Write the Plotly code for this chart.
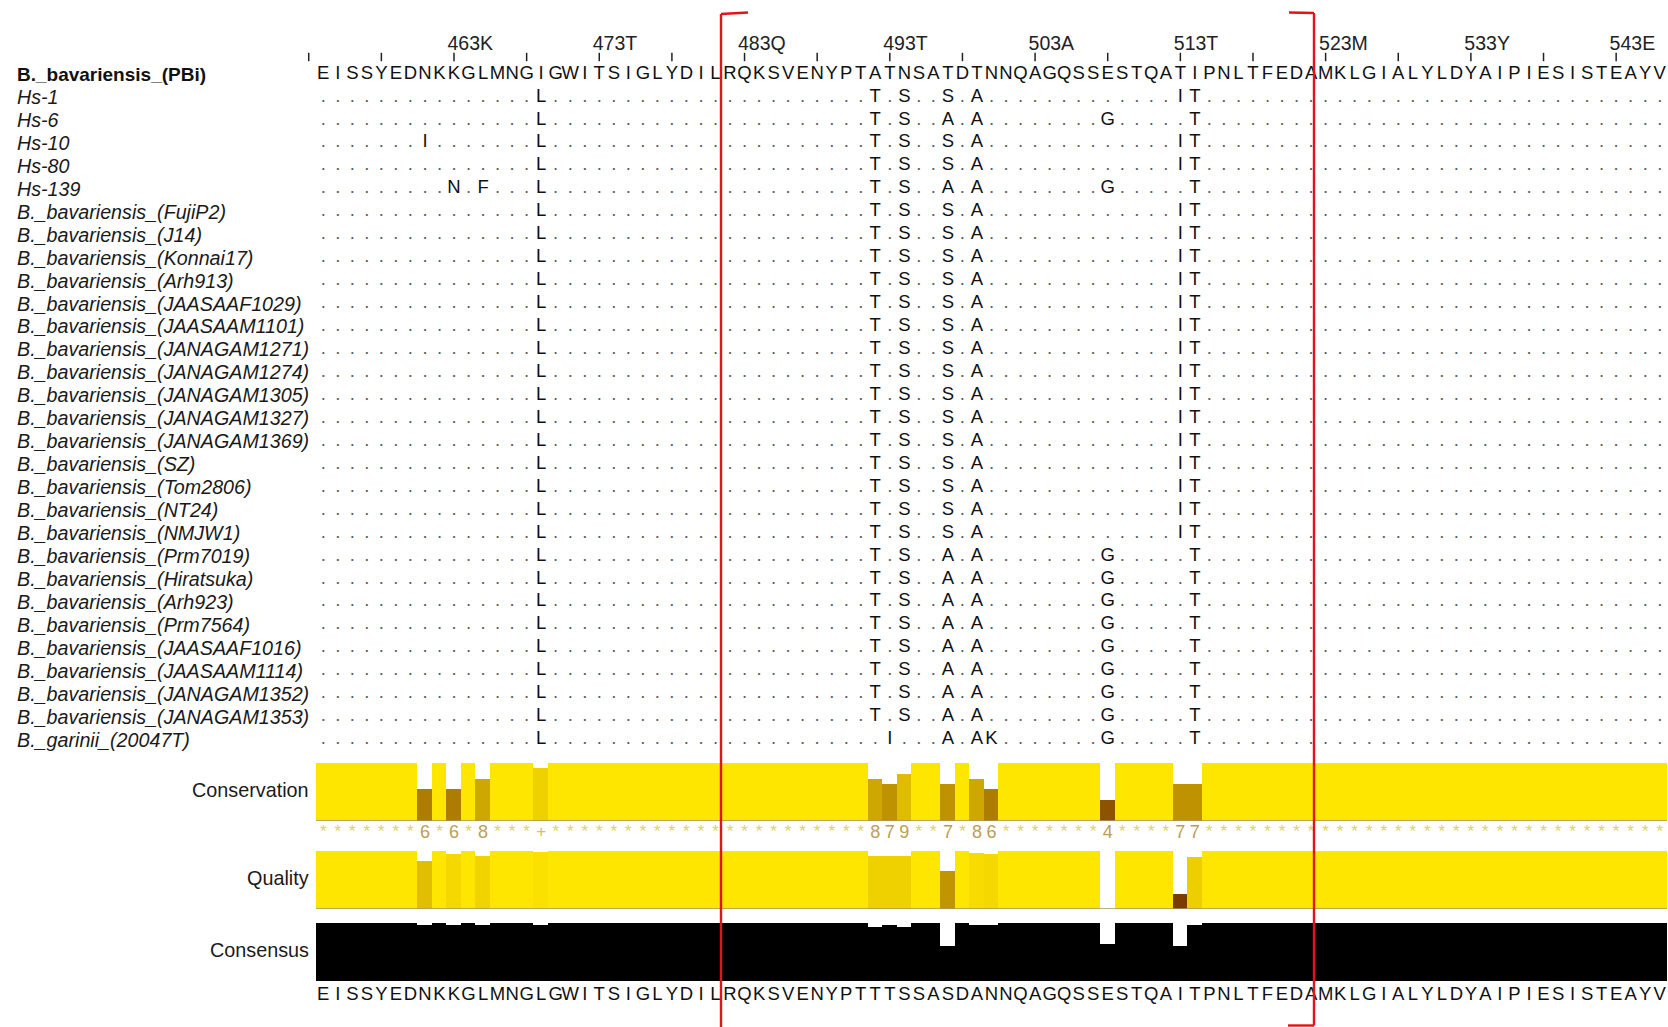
import plotly.graph_objects as go

# ---------------------------------------------------------------- data
FIRST_RESIDUE = 454          # residue number of the first alignment column

reference_name = "B._bavariensis_(PBi)"
reference_seq = ("EISSYEDNKKGLMNGIGWITSIGLYDILRQKSVENYPTATNSATDTNNQA"
                 "GQSSESTQATIPNLTFEDAMKLGIALYLDYAIPIESISTEAYV")

# substitutions relative to the reference (residue numbering)
GROUP_A = "I469L A492T N494S T497S T499A T513I I514T"
GROUP_B = "I469L A492T N494S T497A T499A E508G I514T"

strain_names = [
    "Hs-1", "Hs-6", "Hs-10", "Hs-80", "Hs-139",
    "B._bavariensis_(FujiP2)", "B._bavariensis_(J14)", "B._bavariensis_(Konnai17)",
    "B._bavariensis_(Arh913)", "B._bavariensis_(JAASAAF1029)",
    "B._bavariensis_(JAASAAM1101)", "B._bavariensis_(JANAGAM1271)",
    "B._bavariensis_(JANAGAM1274)", "B._bavariensis_(JANAGAM1305)",
    "B._bavariensis_(JANAGAM1327)", "B._bavariensis_(JANAGAM1369)",
    "B._bavariensis_(SZ)", "B._bavariensis_(Tom2806)", "B._bavariensis_(NT24)",
    "B._bavariensis_(NMJW1)", "B._bavariensis_(Prm7019)",
    "B._bavariensis_(Hiratsuka)", "B._bavariensis_(Arh923)",
    "B._bavariensis_(Prm7564)", "B._bavariensis_(JAASAAF1016)",
    "B._bavariensis_(JAASAAM1114)", "B._bavariensis_(JANAGAM1352)",
    "B._bavariensis_(JANAGAM1353)", "B._garinii_(20047T)",
]
strain_variants = [
    GROUP_A, GROUP_B, "N461I " + GROUP_A, GROUP_A,
    "K463N L465F " + GROUP_B,
    GROUP_A, GROUP_A, GROUP_A, GROUP_A, GROUP_A, GROUP_A, GROUP_A, GROUP_A,
    GROUP_A, GROUP_A, GROUP_A, GROUP_A, GROUP_A, GROUP_A, GROUP_A,
    GROUP_B, GROUP_B, GROUP_B, GROUP_B, GROUP_B, GROUP_B, GROUP_B, GROUP_B,
    "I469L T493I T497A T499A N500K E508G I514T",
]

consensus_seq = ("EISSYEDNKKGLMNGLGWITSIGLYDILRQKSVENYPTTTSSASDANNQA"
                 "GQSSESTQAITPNLTFEDAMKLGIALYLDYAIPIESISTEAYV")

ruler_every = 5
ruler_start = 453            # first minor tick, just left of the first column
tick_residues = [463, 473, 483, 493, 503, 513, 523, 533, 543]
tick_labels = ["463K", "473T", "483Q", "493T", "503A", "513T", "523M", "533Y", "543E"]

# annotation rows: columns that differ from the fully conserved default
annot_residues = [461, 463, 465, 469, 492, 493, 494, 497, 499, 500, 508, 513, 514]
conservation_score = [6, 6, 8, 10, 8, 7, 9, 7, 8, 6, 4, 7, 7]     # max 11
quality_score = [0.83, 0.94, 0.92, 0.98, 0.91, 0.91, 0.91, 0.65,
                 0.96, 0.94, 0.0, 0.26, 0.90]                     # max 1
consensus_pct = [96.7, 96.7, 96.7, 96.7, 93.3, 96.7, 93.3, 60.0,
                 96.7, 96.7, 63.3, 60.0, 96.7]                    # max 100

# ---------------------------------------------------------------- layout constants
W, H = 1668, 1027
COL_PX = 14.527                           # width of one alignment column
SEQ_LEFT, SEQ_RIGHT = 316, 1667           # pixel extent of the alignment block
ROW0_PX, ROW_PX = 74.0, 22.95             # first row centre and row pitch
FONT = "Liberation Sans, Arial, sans-serif"

ncol = len(reference_seq)
cols = list(range(ncol))


def row_of_px(py):
    return (py - ROW0_PX) / ROW_PX


def jalview_colour(frac):
    r = 255 * (0.3 + 0.7 * frac)
    g = 255 * 0.9 * frac
    return f"rgb({r:.0f},{g:.0f},0)"


def expand(default, values):
    out = [default] * ncol
    for res, v in zip(annot_residues, values):
        out[res - FIRST_RESIDUE] = v
    return out


cons_full = expand(11, conservation_score)
qual_full = expand(1.0, quality_score)
pct_full = expand(100.0, consensus_pct)

fig = go.Figure()

# ---------------------------------------------------------------- ruler
ruler_cols = [r - FIRST_RESIDUE for r in range(ruler_start, FIRST_RESIDUE + ncol, ruler_every)]
fig.add_trace(go.Scatter(
    x=ruler_cols, y=[row_of_px(57)] * len(ruler_cols), mode="markers",
    marker=dict(symbol="line-ns", size=6, line=dict(width=1.5, color="#222")),
    cliponaxis=False, hoverinfo="skip"))
fig.add_trace(go.Scatter(
    x=[r - FIRST_RESIDUE - 0.45 for r in tick_residues],
    y=[row_of_px(45)] * len(tick_residues), mode="text", text=tick_labels,
    textposition="middle right", textfont=dict(family=FONT, size=19.5, color="#222"),
    cliponaxis=False, hoverinfo="skip"))

# ---------------------------------------------------------------- alignment rows
fig.add_trace(go.Scatter(
    x=cols, y=[0] * ncol, mode="text", text=list(reference_seq),
    textfont=dict(family=FONT, size=18.5, color="#111"),
    cliponaxis=False, hoverinfo="skip"))

mx, my, mt, dx, dy = [], [], [], [], []
for r, variants in enumerate(strain_variants, start=1):
    subs = {}
    for v in variants.split():
        pos = int(v[1:-1])
        subs[pos - FIRST_RESIDUE] = v[-1]
    for c in cols:
        if c in subs:
            mx.append(c); my.append(r); mt.append(subs[c])
        else:
            dx.append(c); dy.append(r)

fig.add_trace(go.Scatter(
    x=dx, y=dy, mode="text", text=["."] * len(dx),
    textfont=dict(family=FONT, size=18.5, color="#5e5e5e"),
    cliponaxis=False, hoverinfo="skip"))
fig.add_trace(go.Scatter(
    x=mx, y=my, mode="text", text=mt,
    textfont=dict(family=FONT, size=18.5, color="#111"),
    cliponaxis=False, hoverinfo="skip"))

# sequence names
annotations = [dict(
    x=15 / W, xref="paper", y=0, yref="y", xanchor="left", yanchor="middle",
    text=f"<b>{reference_name}</b>", showarrow=False,
    font=dict(family=FONT, size=19, color="#111"))]
for r, name in enumerate(strain_names, start=1):
    annotations.append(dict(
        x=15 / W, xref="paper", y=r, yref="y", xanchor="left", yanchor="middle",
        text=f"<i>{name}</i>", showarrow=False,
        font=dict(family=FONT, size=19.7, color="#1a1a1a")))

# ---------------------------------------------------------------- annotation tracks
cons_dom = [1 - 821 / H, 1 - 763 / H]
qual_dom = [1 - 909 / H, 1 - 851 / H]
pct_dom = [1 - 981 / H, 1 - 923 / H]

fig.add_trace(go.Bar(
    x=cols, y=cons_full, width=1, yaxis="y2",
    marker=dict(color=[jalview_colour(v / 11) for v in cons_full], line=dict(width=0)),
    hoverinfo="skip"))
fig.add_trace(go.Bar(
    x=cols, y=qual_full, width=1, yaxis="y3",
    marker=dict(color=[jalview_colour(v) for v in qual_full], line=dict(width=0)),
    hoverinfo="skip"))
fig.add_trace(go.Bar(
    x=cols, y=pct_full, width=1, yaxis="y4",
    marker=dict(color="#000000", line=dict(width=0)),
    hoverinfo="skip"))

# conservation symbols
sym = ["*" if v == 11 else "+" if v == 10 else str(v) for v in cons_full]
sym_col = ["#dcd65c" if s == "*" else "#d2c256" if s == "+" else "#bb9e58" for s in sym]
sym_size = [17 if s in "*+" else 18 for s in sym]
fig.add_trace(go.Scatter(
    x=cols, y=[row_of_px(833)] * ncol, mode="text", text=sym,
    textfont=dict(family=FONT, size=sym_size, color=sym_col),
    cliponaxis=False, hoverinfo="skip"))

# consensus sequence
fig.add_trace(go.Scatter(
    x=cols, y=[row_of_px(995)] * ncol, mode="text", text=list(consensus_seq),
    textfont=dict(family=FONT, size=18.5, color="#111"),
    cliponaxis=False, hoverinfo="skip"))

for label, dom in (("Conservation", cons_dom), ("Quality", qual_dom), ("Consensus", pct_dom)):
    annotations.append(dict(
        x=311 / W, xref="paper", y=(dom[0] + dom[1]) / 2 + 0.002, yref="paper",
        xanchor="right", yanchor="middle", text=label, showarrow=False,
        font=dict(family=FONT, size=19.8, color="#1a1a1a")))

# track baselines
shapes = []
for yref in ("y2", "y3"):
    shapes.append(dict(type="line", xref="x", yref=yref, x0=-0.5, x1=ncol - 0.5,
                       y0=0, y1=0, line=dict(color="#a39466", width=1.5)))


# highlighted region brackets
def px_line(x0, y0, x1, y1):
    return dict(type="line", xref="paper", yref="paper",
                x0=x0 / W, x1=x1 / W, y0=1 - y0 / H, y1=1 - y1 / H,
                line=dict(color="#e3121b", width=2.4))


shapes += [
    px_line(721, 14, 748, 12.5),
    px_line(721, 14, 721, H + 2),
    px_line(1289, 12.5, 1314, 13),
    px_line(1314, 13, 1314, 1025.5),
    px_line(1288, 1025.5, 1314, 1025.5),
]

fig.update_layout(
    width=W, height=H, margin=dict(l=0, r=0, t=0, b=0),
    paper_bgcolor="white", plot_bgcolor="white",
    showlegend=False, barmode="overlay", bargap=0,
    # one spare column on the left so the first ruler tick sits inside the range
    xaxis=dict(domain=[(SEQ_LEFT - COL_PX) / W, SEQ_RIGHT / W], range=[-1.5, ncol - 0.5],
               visible=False, fixedrange=True),
    yaxis=dict(domain=[0, 1], range=[row_of_px(H), row_of_px(0)],
               visible=False, fixedrange=True),
    yaxis2=dict(domain=cons_dom, range=[0, 11], visible=False, anchor="x"),
    yaxis3=dict(domain=qual_dom, range=[0, 1], visible=False, anchor="x"),
    yaxis4=dict(domain=pct_dom, range=[0, 100], visible=False, anchor="x"),
    annotations=annotations, shapes=shapes,
)

fig.write_html("out.html")
